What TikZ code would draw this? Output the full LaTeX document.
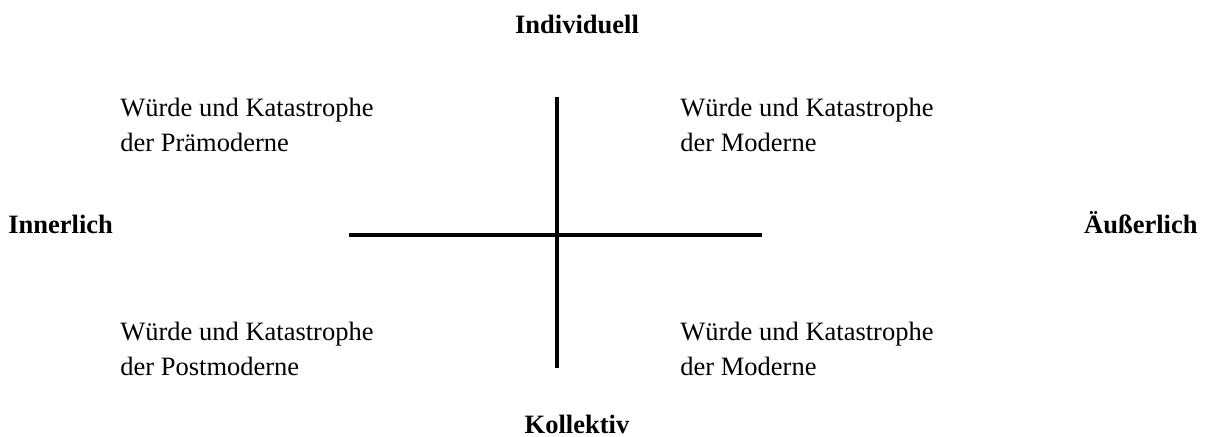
\documentclass[tikz,border=0pt]{standalone}
\usepackage{fontspec}
\setmainfont{Liberation Serif}
\usetikzlibrary{positioning}
\tikzset{
  axislabel/.style = {font=\fontsize{13.25}{16}\selectfont\bfseries, inner sep=0pt},
  quadtext/.style  = {font=\fontsize{13.25}{17.5}\selectfont, align=left, inner sep=0pt},
  axisline/.style  = {line width=2pt, color=black},
}
\begin{document}
\begin{tikzpicture}[x=0.5pt, y=-0.5pt]
\useasboundingbox (0,0) rectangle (1206,436);

% axes
\coordinate (top)    at (557,97);
\coordinate (bottom) at (557,368);
\coordinate (left)   at (349,235);
\coordinate (right)  at (762,235);
\draw[axisline] (left) -- (right);
\draw[axisline] (top) -- (bottom);

% axis labels
\node[axislabel, anchor=base] (indiv) at (577,33) {Individuell};
\node[axislabel, anchor=base] (koll) at (577,433) {Kollektiv};
\node[axislabel, anchor=base west] (inner) at (8,233) {Innerlich};
\node[axislabel, anchor=base east] (outer) at (1198,233) {Äußerlich};

% quadrants (base = last line)
\node[quadtext, anchor=base west] (tl) at (120,151) {Würde und Katastrophe\\der Prämoderne};
\node[quadtext, anchor=base west] (tr) at (680,151) {Würde und Katastrophe\\der Moderne};
\node[quadtext, anchor=base west] (bl) at (120,375) {Würde und Katastrophe\\der Postmoderne};
\node[quadtext, anchor=base west] (br) at (680,375) {Würde und Katastrophe\\der Moderne};

\end{tikzpicture}
\end{document}
